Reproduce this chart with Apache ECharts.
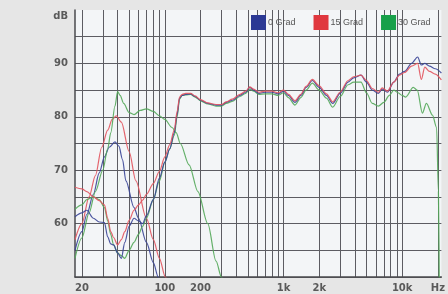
<!DOCTYPE html>
<html>
<head>
<meta charset="utf-8">
<script src="https://cdn.jsdelivr.net/npm/echarts@6/dist/echarts.min.js"></script>
<style>
html, body { margin: 0; padding: 0; background: #e6e6e6; }
#chart { width: 448px; height: 294px; }
</style>
</head>
<body>
<div id="chart"></div>
<script>
// Frequenzgang 0 / 15 / 30 Grad
var gridFreqs = [20, 30, 40, 50, 60, 70, 80, 90, 100, 200, 300, 400, 500, 600, 700, 800, 900,
  1000, 2000, 3000, 4000, 5000, 6000, 7000, 8000, 9000, 10000, 20000]
var xLabelFreqs = [20, 100, 200, 1000, 2000, 10000, 20000]
var xLabelTexts = ['20', '100', '200', '1k', '2k', '10k', 'Hz']

// tiefer Bereich (Hauptkurven)
var loFreq = [17.5, 20, 22, 25, 28, 31, 33, 35, 37, 40, 43, 46, 50, 55, 60, 65, 70, 80, 90, 100, 110, 120, 127, 133]
var blueLo = [61.3, 62, 62.5, 61, 60.3, 60.2, 57.5, 56.2, 56, 54.5, 53.5, 56.5, 59.5, 61, 60.5, 60, 61.5, 64.5, 68.5, 71.5, 74, 77, 80.5, 83.5]
var redLo = [66.8, 66.5, 66, 65, 64.3, 63.5, 61, 58.5, 57.4, 56, 57, 58.5, 60.6, 62.5, 63.5, 64.4, 65.5, 67.5, 69.8, 72.5, 74.8, 77.5, 81, 83.7]
var greenLo = [62.7, 63.5, 64.5, 65, 64.5, 63, 60.5, 58, 56, 54.5, 54, 53.5, 55, 56.5, 58, 59.5, 61, 64.5, 68, 71.5, 74, 76.5, 80, 83.3]

// oberer Bereich
var hiFreq = [140, 150, 165, 180, 200, 230, 270, 300, 330, 370, 430, 480, 520, 560, 620, 700, 800, 900, 1000, 1100,
  1250, 1400, 1550, 1750, 2000, 2300, 2600, 3000, 3500, 3900, 4500, 5000, 5600, 6300, 6800, 7500, 8500, 9500, 10500, 12000,
  13500, 14500, 15500, 17000, 19000, 21400]
var blueHi = [84, 84.2, 84.3, 83.8, 83.1, 82.5, 82.2, 82.2, 82.7, 83.1, 84, 84.6, 85.5, 85, 84.4, 84.6, 84.6, 84.3, 84.8, 84,
  82.7, 84, 85.5, 86.8, 85.5, 84, 82.5, 84.4, 86.5, 87.3, 87.8, 86.5, 85, 84.4, 85.2, 84.6, 86.5, 88, 88.5, 90,
  91.2, 89.7, 90, 89.5, 89, 88.2]
var redHi = [84.2, 84.4, 84.4, 83.9, 83.2, 82.6, 82.3, 82.3, 82.8, 83.3, 84.2, 84.8, 85.6, 85.2, 84.6, 84.8, 84.8, 84.5, 85, 84.2,
  83, 84.2, 85.7, 87, 85.8, 84.3, 82.8, 84.6, 86.8, 87.5, 87.8, 86.8, 85.3, 84.6, 85.4, 84.8, 86.5, 87.8, 88.3, 89.5,
  90, 87, 89.3, 88.5, 88, 86.9]
var greenHiFreq = [140, 150, 165, 180, 200, 230, 270, 300, 330, 370, 430, 480, 520, 560, 620, 700, 800, 900, 1000, 1100,
  1250, 1400, 1550, 1750, 2000, 2300, 2600, 3000, 3500, 3900, 4500, 5000, 5600, 6300, 7000, 7800, 8500, 9200, 10000, 10700,
  12400, 13400, 14800, 16000, 18000, 19500, 20200, 20600]
var greenHi = [84, 84.1, 84.2, 83.7, 83, 82.4, 82, 82, 82.5, 82.9, 83.8, 84.4, 85.2, 84.8, 84.2, 84.3, 84.3, 84, 84.5, 83.6,
  82.2, 83.6, 85, 86.3, 85, 83.5, 81.8, 83.8, 86, 86.5, 86.5, 84.5, 82.5, 82, 82.7, 84, 85, 84.5, 84, 83.7,
  85.5, 85, 80.7, 82.5, 80.3, 78, 66, 45]

// Resonanz-Kurven im Bass
var bluePkFreq = [17.5, 20, 22, 25, 28, 31, 34, 38, 41, 44, 47, 55, 60, 70, 80, 88, 95]
var bluePk = [55, 58.5, 61.7, 65.5, 69.5, 72.5, 74.3, 75.3, 74.5, 72, 68, 63, 61, 56.5, 52.7, 50, 47.5]
var redPkFreq = [17.5, 20, 23, 26, 29.4, 33, 36, 39, 43, 50, 57, 70, 80, 90, 101, 110]
var redPk = [57, 60, 65, 69, 74.3, 77.5, 79.5, 80.2, 79, 73.5, 68, 61, 57, 53.5, 50, 48]
var greenPkFreq = [17.5, 20, 23, 26, 30, 33, 35, 38, 40, 42, 45, 50, 55, 62, 70, 80, 90, 100, 115, 125, 135, 160, 190, 230, 270, 300, 330]
var greenPk = [53.5, 57.3, 62, 66, 70, 74, 77, 82, 84.7, 84, 82.5, 80.8, 80.4, 81.2, 81.5, 81, 80.2, 79.5, 78, 77, 75, 71, 66, 60, 53, 50, 47]

var BLUE = '#3a4597'
var RED = '#e2545e'
var GREEN = '#54a85a'

function pts(freqs, vals) {
  return freqs.map(function (f, i) { return [Math.log10(f), vals[i]] })
}

function line(name, color, data) {
  return {
    name: name,
    type: 'line',
    data: data,
    showSymbol: false,
    smooth: 0.3,
    smoothMonotone: 'x',
    clip: true,
    itemStyle: { color: color },
    lineStyle: { width: 1.2, color: color, opacity: 0.9 }
  }
}

var myChart = echarts.init(document.getElementById('chart'))
var gridColor = '#5c5c62'
var splitColors = []
for (var k = 0; k < 10; k++) splitColors.push(gridColor)
splitColors.push('rgba(0,0,0,0)')

var option = {
  backgroundColor: '#e6e6e6',
  animation: false,
  legend: {
    left: 251,
    top: 15,
    padding: 0,
    icon: 'rect',
    itemWidth: 15,
    itemHeight: 15,
    itemGap: 18,
    textStyle: { fontSize: 9, color: '#555', fontFamily: 'Liberation Sans', padding: [0, 0, 0, -3] },
    data: [
      { name: '0 Grad', itemStyle: { color: '#2b3994' } },
      { name: '15 Grad', itemStyle: { color: '#e0383f' } },
      { name: '30 Grad', itemStyle: { color: '#17a04a' } }
    ]
  },
  grid: {
    left: 75,
    right: 0,
    top: 10,
    bottom: 17,
    show: true,
    backgroundColor: '#f3f5f7',
    borderWidth: 0
  },
  xAxis: {
    type: 'value',
    min: Math.log10(17.5),
    max: Math.log10(21400),
    axisLine: { show: true, lineStyle: { color: '#4a4a4e', width: 1.5 } },
    axisTick: { show: false, customValues: gridFreqs.map(Math.log10) },
    splitLine: { show: true, lineStyle: { color: gridColor, width: 1 } },
    axisLabel: {
      customValues: xLabelFreqs.map(Math.log10),
      margin: 6,
      fontSize: 10,
      fontWeight: 'bold',
      color: '#5a5a5a',
      fontFamily: 'DejaVu Sans',
      formatter: function (v) {
        for (var i = 0; i < xLabelFreqs.length; i++) {
          if (Math.abs(Math.log10(xLabelFreqs[i]) - v) < 1e-6) return xLabelTexts[i]
        }
        return ''
      }
    }
  },
  yAxis: {
    type: 'value',
    min: 50,
    max: 100,
    interval: 5,
    axisLine: { show: true, lineStyle: { color: '#4a4a4e', width: 1.5 } },
    axisTick: { show: false },
    splitLine: { show: true, lineStyle: { color: splitColors, width: 1 } },
    axisLabel: {
      margin: 7,
      fontSize: 10,
      fontWeight: 'bold',
      color: '#5a5a5a',
      fontFamily: 'DejaVu Sans',
      formatter: function (v) {
        if (v === 100) return '{u|dB}'
        if (v % 10 === 0 && v >= 60) return v
        return ''
      },
      rich: {
        u: { fontSize: 10, fontWeight: 'bold', color: '#5a5a5a', fontFamily: 'DejaVu Sans', padding: [12, 0, 0, 0] }
      }
    }
  },
  series: [
    line('0 Grad', BLUE, pts(bluePkFreq, bluePk)),
    line('15 Grad', RED, pts(redPkFreq, redPk)),
    line('30 Grad', GREEN, pts(greenPkFreq, greenPk)),
    line('30 Grad', GREEN, pts(loFreq.concat(greenHiFreq), greenLo.concat(greenHi))),
    line('0 Grad', BLUE, pts(loFreq.concat(hiFreq), blueLo.concat(blueHi))),
    line('15 Grad', RED, pts(loFreq.concat(hiFreq), redLo.concat(redHi)))
  ]
}

option && myChart.setOption(option)
</script>
</body>
</html>
